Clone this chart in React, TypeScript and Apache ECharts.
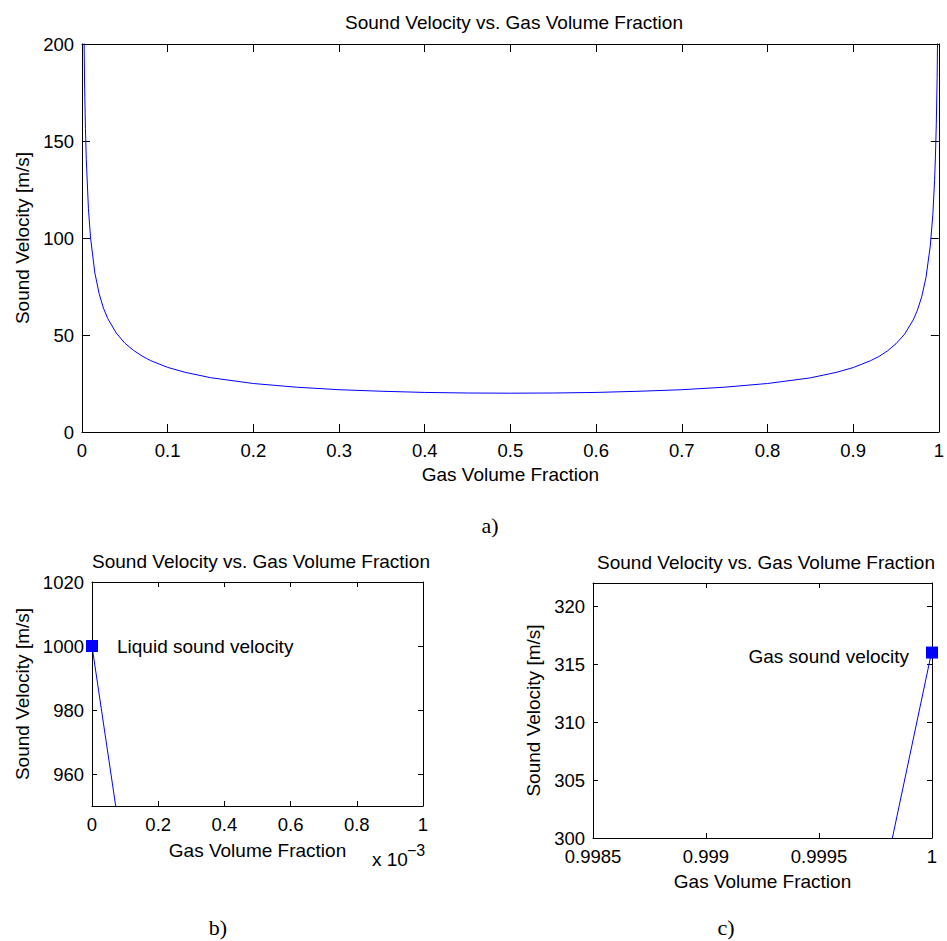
import React, { useEffect, useRef } from "react";
import * as echarts from "echarts";

// Gas volume fraction samples and sound velocity
const gasFraction = [
  0, 0.001, 0.002, 0.003, 0.004, 0.005, 0.0075, 0.01, 0.015, 0.02, 0.025,
  0.03, 0.04, 0.05, 0.06, 0.07, 0.08, 0.1, 0.12, 0.15, 0.2, 0.25, 0.3, 0.35,
  0.4, 0.45, 0.5, 0.55, 0.6, 0.65, 0.7, 0.75, 0.8, 0.85, 0.88, 0.9, 0.92,
  0.93, 0.94, 0.95, 0.96, 0.97, 0.975, 0.98, 0.985, 0.99, 0.993, 0.995, 0.996,
  0.997, 0.998, 0.999, 1,
];
const soundVelocity = [
  1000, 301.7, 218.4, 179.9, 156.5, 140.4, 115.1, 100.0, 82.0, 71.3, 63.9,
  58.5, 51.0, 45.8, 42.1, 39.2, 36.8, 33.3, 30.8, 28.0, 25.0, 23.1, 21.8, 21.0,
  20.4, 20.1, 20.0, 20.1, 20.4, 21.0, 21.8, 23.1, 25.0, 27.9, 30.7, 33.2, 36.7,
  38.9, 41.8, 45.5, 50.4, 57.7, 62.8, 69.7, 79.7, 95.9, 112.2, 129.5, 141.8,
  158.4, 182.8, 223.8, 316.2,
];
const liquidPoint = [0, 1000];
const gasPoint = [1, 316];

const titleText = "Sound Velocity vs. Gas Volume Fraction";
const xName = "Gas Volume Fraction";
const yName = "Sound Velocity [m/s]";
const leftYTicks = [960, 980, 1000, 1020];
const rightYTicks = [300, 305, 310, 315, 320];

const FONT = "'Liberation Sans', Arial, Helvetica, sans-serif";
const SERIF = "'Liberation Serif', 'DejaVu Serif', serif";
const BLUE = "#0000ff";

const trim = (v: number, d: number) => String(parseFloat(v.toFixed(d)));

function axisBase(tickLen: number) {
  return {
    type: "value" as const,
    splitLine: { show: false },
    axisLine: { show: true, onZero: false, lineStyle: { color: "#000", width: 1 } },
    axisTick: { show: true, inside: true, length: tickLen, lineStyle: { color: "#000", width: 1 } },
    axisLabel: { color: "#000", fontSize: 18.5, fontFamily: FONT, margin: 9 },
    nameTextStyle: { color: "#000", fontSize: 19, fontFamily: FONT },
  };
}

export default function App() {
  const ref = useRef<HTMLDivElement>(null);

  useEffect(() => {
    if (!ref.current) return;
    const chart = echarts.init(ref.current, undefined, { renderer: "svg" });
    const pts = gasFraction.map((x, i) => [x, soundVelocity[i]]);

    const mirrorX = (grid: number, min: number, max: number, interval: number, tl: number) => ({
      ...axisBase(tl),
      gridIndex: grid,
      position: "top" as const,
      min,
      max,
      interval,
      axisLabel: { show: false },
    });

    const option: any = {
      animation: false,
      backgroundColor: "#fff",
      textStyle: { fontFamily: FONT },
      grid: [
        { left: 82, top: 44, width: 864, height: 388 },
        { left: 92, top: 582, width: 331, height: 224 },
        { left: 593, top: 583, width: 339, height: 255 },
      ],
      xAxis: [
        {
          ...axisBase(8),
          gridIndex: 0,
          min: 0,
          max: 1,
          interval: 0.1,
          axisLabel: { ...axisBase(8).axisLabel, formatter: (v: number) => trim(v, 4) },
          name: xName,
          nameLocation: "middle",
          nameGap: 33,
        },
        mirrorX(0, 0, 1, 0.1, 8),
        {
          ...axisBase(5),
          gridIndex: 1,
          min: 0,
          max: 0.001,
          interval: 0.0002,
          axisLabel: { ...axisBase(5).axisLabel, formatter: (v: number) => trim(v * 1000, 3) },
          name: xName,
          nameLocation: "middle",
          nameGap: 35,
        },
        mirrorX(1, 0, 0.001, 0.0002, 5),
        {
          ...axisBase(5),
          gridIndex: 2,
          min: 0.9985,
          max: 1,
          interval: 0.0005,
          axisLabel: { ...axisBase(5).axisLabel, formatter: (v: number) => trim(v, 4) },
          name: xName,
          nameLocation: "middle",
          nameGap: 34,
        },
        mirrorX(2, 0.9985, 1, 0.0005, 5),
      ],
      yAxis: [
        {
          ...axisBase(8),
          gridIndex: 0,
          min: 0,
          max: 200,
          interval: 50,
          axisLabel: { ...axisBase(8).axisLabel, margin: 8, formatter: (v: number) => String(v) },
          name: yName,
          nameLocation: "middle",
          nameGap: 50,
        },
        {
          ...axisBase(8),
          gridIndex: 0,
          position: "right",
          min: 0,
          max: 200,
          interval: 50,
          axisLabel: { show: false },
        },
        {
          ...axisBase(5),
          gridIndex: 1,
          min: 950,
          max: 1020,
          axisTick: { ...axisBase(5).axisTick, customValues: leftYTicks },
          axisLabel: {
            ...axisBase(5).axisLabel,
            margin: 8,
            customValues: leftYTicks,
            formatter: (v: number) => String(v),
          },
          name: yName,
          nameLocation: "middle",
          nameGap: 60,
        },
        {
          ...axisBase(5),
          gridIndex: 1,
          position: "right",
          min: 950,
          max: 1020,
          axisTick: { ...axisBase(5).axisTick, customValues: leftYTicks },
          axisLabel: { show: false, customValues: leftYTicks },
        },
        {
          ...axisBase(5),
          gridIndex: 2,
          min: 300,
          max: 322,
          axisTick: { ...axisBase(5).axisTick, customValues: rightYTicks },
          axisLabel: {
            ...axisBase(5).axisLabel,
            margin: 8,
            customValues: rightYTicks,
            formatter: (v: number) => String(v),
          },
          name: yName,
          nameLocation: "middle",
          nameGap: 50,
        },
        {
          ...axisBase(5),
          gridIndex: 2,
          position: "right",
          min: 300,
          max: 322,
          axisTick: { ...axisBase(5).axisTick, customValues: rightYTicks },
          axisLabel: { show: false, customValues: rightYTicks },
        },
      ],
      series: [
        {
          type: "line",
          xAxisIndex: 0,
          yAxisIndex: 0,
          data: pts,
          showSymbol: false,
          clip: true,
          lineStyle: { color: BLUE, width: 1 },
        },
        {
          type: "line",
          xAxisIndex: 2,
          yAxisIndex: 2,
          data: pts,
          showSymbol: false,
          clip: true,
          lineStyle: { color: BLUE, width: 1 },
        },
        {
          type: "line",
          xAxisIndex: 4,
          yAxisIndex: 4,
          data: pts,
          showSymbol: false,
          clip: true,
          lineStyle: { color: BLUE, width: 1 },
        },
        {
          type: "scatter",
          xAxisIndex: 2,
          yAxisIndex: 2,
          data: [liquidPoint],
          symbol: "rect",
          symbolSize: 12,
          clip: false,
          itemStyle: { color: BLUE, opacity: 1 },
          label: {
            show: true,
            position: "right",
            distance: 19,
            formatter: "Liquid sound velocity",
            color: "#000",
            opacity: 1,
            fontSize: 19,
            fontFamily: FONT,
          },
        },
        {
          type: "scatter",
          xAxisIndex: 4,
          yAxisIndex: 4,
          data: [gasPoint],
          symbol: "rect",
          symbolSize: 12,
          clip: false,
          itemStyle: { color: BLUE, opacity: 1 },
          label: {
            show: true,
            position: "left",
            distance: 17,
            offset: [0, 4],
            formatter: "Gas sound velocity",
            color: "#000",
            opacity: 1,
            fontSize: 19,
            fontFamily: FONT,
          },
        },
      ],
      graphic: [
        { type: "text", x: 514, y: 22, style: { text: titleText, fontSize: 19, fontFamily: FONT, fill: "#000", align: "center", verticalAlign: "middle" } },
        { type: "text", x: 261, y: 561, style: { text: titleText, fontSize: 19, fontFamily: FONT, fill: "#000", align: "center", verticalAlign: "middle" } },
        { type: "text", x: 766, y: 562, style: { text: titleText, fontSize: 19, fontFamily: FONT, fill: "#000", align: "center", verticalAlign: "middle" } },
        { type: "text", x: 372, y: 859, style: { text: "x 10", fontSize: 19, fontFamily: FONT, fill: "#000", align: "left", verticalAlign: "middle" } },
        { type: "text", x: 407, y: 850, style: { text: "\u22123", fontSize: 16, fontFamily: FONT, fill: "#000", align: "left", verticalAlign: "middle" } },
        { type: "text", x: 490, y: 525, style: { text: "a)", fontSize: 22, fontFamily: SERIF, fill: "#000", align: "center", verticalAlign: "middle" } },
        { type: "text", x: 218, y: 927, style: { text: "b)", fontSize: 22, fontFamily: SERIF, fill: "#000", align: "center", verticalAlign: "middle" } },
        { type: "text", x: 726, y: 927, style: { text: "c)", fontSize: 22, fontFamily: SERIF, fill: "#000", align: "center", verticalAlign: "middle" } },
      ],
    };

    chart.setOption(option);
    return () => chart.dispose();
  }, []);

  return (
    <div
      ref={ref}
      style={{ position: "fixed", left: 0, top: 0, width: 947, height: 941, background: "#fff" }}
    />
  );
}
